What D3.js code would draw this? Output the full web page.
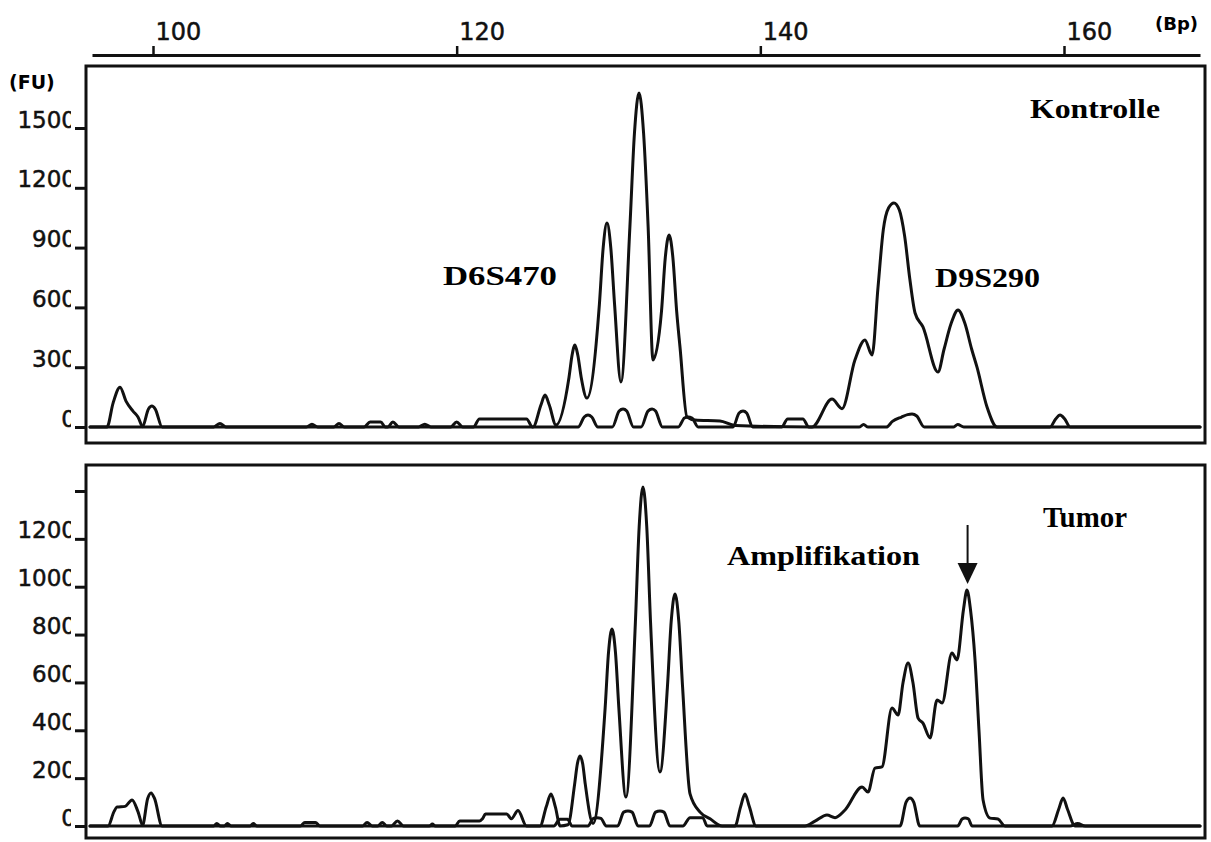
<!DOCTYPE html>
<html>
<head>
<meta charset="utf-8">
<script src="https://cdn.jsdelivr.net/npm/d3@7"></script>
<style>
  body { margin: 0; background: #fff; }
</style>
</head>
<body>
<script>
// fragment size ticks (bp) on the top axis
const bpTicks = [100, 120, 140, 160];
const fuTicksKontrolle = [0, 300, 600, 900, 1200, 1500];
const fuTicksTumor = [0, 200, 400, 600, 800, 1000, 1200, 1400];

// [bp, FU]
const kontrolleMain = [
  [95.85, 0], [96.97, 0], [97.37, 120], [97.83, 200], [98.22, 130], [98.68, 80],
  [99.01, 50], [99.34, 0], [125.03, 0], [125.55, 110], [125.82, 160], [126.1, 110], [126.54, 10],
  [127.4, 250], [127.6, 360], [127.79, 411], [127.98, 360], [128.2, 250], [128.58, 145],
  [129.4, 615], [129.65, 900], [129.90, 1023], [130.15, 900], [130.4, 615], [130.82, 226],
  [131.41, 1005], [131.71, 1475], [132.01, 1676], [132.31, 1475], [132.61, 1005], [132.93, 336],
  [133.49, 580], [133.74, 850], [133.99, 963], [134.24, 850], [134.49, 580], [134.71, 400],
  [135.17, 50], [135.70, 35], [137.34, 30], [138.33, 8], [143.40, 0],
  [144.72, 140], [145.38, 92], [146.23, 336], [146.89, 437], [147.36, 361],
  [147.75, 700], [148.1, 990], [148.45, 1100], [148.80, 1124], [149.15, 1090], [149.5, 960],
  [149.85, 740], [150.19, 572], [150.71, 502], [151.70, 276],
  [152.1, 390], [152.57, 520], [153.02, 587], [153.47, 520], [153.92, 390],
  [154.27, 300], [154.93, 100], [155.59, 0], [159.08, 0], [159.45, 40], [159.74, 60],
  [160.05, 40], [160.40, 0], [168.96, 0]
];
const kontrolleSmall = [
  [95.85, 0], [99.30, 0], [99.7, 90], [99.93, 105], [100.15, 90], [100.60, 0],
  [104.0, 0], [104.41, 18], [104.8, 0],
  [110.1, 0], [110.47, 14], [110.85, 0], [111.9, 0], [112.25, 18], [112.6, 0],
  [113.9, 0], [114.3, 25], [115.0, 25], [115.3, 0], [115.45, 0], [115.8, 25], [116.2, 0],
  [117.5, 0], [117.9, 14], [118.3, 0], [119.6, 0], [120.0, 25], [120.4, 0],
  [121.1, 0], [121.5, 40], [124.6, 40], [125.0, 0],
  [128.0, 0], [128.4, 50], [128.65, 60], [128.9, 50], [129.3, 0],
  [130.25, 0], [130.7, 80], [130.96, 90], [131.2, 80], [131.65, 0],
  [132.15, 0], [132.6, 80], [132.87, 90], [133.1, 80], [133.55, 0],
  [134.6, 0], [135.0, 45], [135.24, 50], [135.5, 45], [135.9, 0],
  [138.2, 0], [138.6, 70], [138.86, 80], [139.1, 70], [139.5, 0],
  [141.4, 0], [141.8, 40], [142.8, 40], [143.2, 0], [146.5, 0], [146.8, 12], [147.1, 0],
  [148.3, 0], [148.7, 28], [149.3, 50], [149.7, 62], [149.99, 65], [150.3, 55], [150.8, 0],
  [152.7, 0], [153.0, 12], [153.4, 0], [168.96, 0]
];
const tumorMain = [
  [95.85, 0], [97.04, 0], [97.43, 60], [97.63, 79], [98.16, 82], [98.62, 109],
  [99.01, 60], [99.34, 0], [125.49, 0], [125.9, 80], [126.21, 134], [126.5, 80], [126.81, 0],
  [127.33, 5], [127.77, 175], [127.95, 260], [128.12, 293], [128.3, 260], [128.47, 175], [128.98, 10],
  [129.78, 495], [130.0, 725], [130.23, 823], [130.46, 725], [130.68, 495], [131.15, 121],
  [131.77, 850], [132.02, 1250], [132.27, 1417], [132.52, 1250], [132.77, 850], [133.39, 226],
  [133.88, 580], [134.13, 855], [134.38, 970], [134.63, 855], [134.88, 580], [135.37, 134],
  [136.03, 58], [136.69, 30], [137.48, 0],
  [138.33, 0], [138.7, 80], [138.99, 134], [139.28, 80], [139.72, 0],
  [142.94, 0], [143.60, 20], [144.39, 46],
  [144.92, 35], [145.58, 67], [146.70, 163], [147.09, 142], [147.55, 242], [148.01, 247],
  [148.67, 493], [149.07, 464], [149.4, 600], [149.73, 681], [150.05, 600], [150.39, 451],
  [150.71, 430], [151.18, 368], [151.64, 527], [151.97, 514], [152.62, 723], [152.95, 694],
  [153.38, 905], [153.61, 986], [153.84, 905], [154.14, 694], [154.4, 400],
  [154.67, 109], [155.13, 33], [155.65, 29], [156.11, 0], [159.21, 0],
  [159.65, 70], [159.94, 117], [160.23, 70], [160.73, 0], [168.96, 0]
];
const tumorSmall = [
  [95.85, 0], [99.30, 0], [99.65, 115], [99.87, 138], [100.1, 115], [100.60, 0],
  [104.0, 0], [104.2, 10], [104.45, 0],
  [104.7, 0], [104.9, 10], [105.15, 0], [106.4, 0], [106.6, 10], [106.85, 0],
  [109.7, 0], [110.0, 15], [110.35, 15], [110.7, 15], [111.0, 0], [113.8, 0], [114.1, 15],
  [114.45, 0], [114.8, 0], [115.1, 15], [115.4, 0], [115.7, 0], [116.1, 21], [116.5, 0],
  [118.2, 0], [118.4, 8], [118.6, 0], [119.9, 0], [120.2, 21], [121.5, 21], [121.7, 30],
  [121.9, 50], [123.3, 50], [123.6, 30], [124.04, 65], [124.6, 0], [126.4, 0], [126.8, 28],
  [127.3, 28], [127.6, 0],
  [128.65, 0], [129.0, 32], [129.24, 35], [129.5, 32], [129.85, 0],
  [130.6, 0], [131.0, 58], [131.28, 63], [131.55, 58], [131.95, 0],
  [132.7, 0], [133.1, 58], [133.39, 63], [133.65, 58], [134.05, 0],
  [134.9, 0], [135.37, 35], [136.2, 35], [136.5, 0],
  [149.2, 0], [149.6, 100], [149.86, 117], [150.1, 100], [150.5, 0],
  [153.0, 0], [153.3, 30], [153.48, 33], [153.7, 30], [153.95, 0],
  [160.4, 0], [160.9, 10], [161.4, 0], [168.96, 0]
];

const width = 1211, height = 842;
const svg = d3.select("body").append("svg")
  .attr("width", width)
  .attr("height", height)
  .style("background", "#fff");

const x = d3.scaleLinear().domain([100, 160]).range([153, 1064]);

const panels = [
  { name: "Kontrolle", top: 66, bottom: 443, y: d3.scaleLinear().domain([0, 1500]).range([427, 128]),
    ticks: fuTicksKontrolle, traces: [kontrolleSmall, kontrolleMain], labelFmt: d => d },
  { name: "Tumor", top: 465, bottom: 838, y: d3.scaleLinear().domain([0, 1400]).range([826, 491]),
    ticks: fuTicksTumor, traces: [tumorSmall, tumorMain], labelFmt: d => d === 1400 ? "" : d }
];

// the last zero is cut off in the scan, so clip the tick labels
svg.append("defs").append("clipPath")
  .attr("id", "lblclip")
  .append("rect")
  .attr("x", -120).attr("y", -40).attr("width", 105).attr("height", 80);

// top bp axis
const axisScale = x.copy().domain([x.invert(92), x.invert(1200)]).range([92, 1200]);
const gx = svg.append("g")
  .attr("transform", "translate(0,55)")
  .call(d3.axisTop(axisScale).tickValues(bpTicks).tickSize(9).tickSizeOuter(0));
gx.select(".domain").attr("stroke-width", 3).attr("stroke", "#111");
gx.selectAll(".tick line").attr("stroke-width", 2.5).attr("stroke", "#111");
gx.selectAll(".tick text")
  .attr("font-family", "DejaVu Sans")
  .attr("font-size", 24)
  .attr("fill", "#111")
  .attr("stroke", "#111")
  .attr("stroke-width", 0.5)
  .attr("text-anchor", "start")
  .attr("x", 2)
  .attr("y", -15)
  .attr("dy", 0);

svg.append("text")
  .attr("x", 1155).attr("y", 30)
  .attr("font-family", "DejaVu Sans").attr("font-weight", "bold").attr("font-size", 18)
  .text("(Bp)");
svg.append("text")
  .attr("x", 9).attr("y", 89)
  .attr("font-family", "DejaVu Sans").attr("font-weight", "bold").attr("font-size", 19)
  .text("(FU)");

const line = d3.line().curve(d3.curveMonotoneX);

panels.forEach(p => {
  // frame
  svg.append("rect")
    .attr("x", 86).attr("y", p.top)
    .attr("width", 1205 - 86).attr("height", p.bottom - p.top)
    .attr("fill", "none").attr("stroke", "#111").attr("stroke-width", 3);

  const gy = svg.append("g")
    .attr("transform", "translate(86,0)")
    .call(d3.axisLeft(p.y).tickValues(p.ticks).tickSize(11).tickPadding(0).tickFormat(p.labelFmt));
  gy.select(".domain").remove();
  gy.selectAll(".tick line").attr("stroke-width", 3).attr("stroke", "#111");
  gy.selectAll(".tick text")
    .attr("font-family", "DejaVu Sans")
    .attr("font-size", 23)
    .attr("fill", "#111")
    .attr("stroke", "#111")
    .attr("stroke-width", 0.5)
    .attr("x", -10)
    .attr("dy", -1)
    .attr("clip-path", "url(#lblclip)");

  line.x(d => x(d[0])).y(d => p.y(d[1]));
  p.traces.forEach(t => {
    svg.append("path")
      .datum(t)
      .attr("d", line)
      .attr("fill", "none")
      .attr("stroke", "#111")
      .attr("stroke-width", 3)
      .attr("stroke-linejoin", "round")
      .attr("stroke-linecap", "round");
  });
});

// annotations
const serif = (txt, xx, yy, size, len) => svg.append("text")
  .attr("x", xx).attr("y", yy)
  .attr("font-family", "Liberation Serif").attr("font-weight", "bold")
  .attr("font-size", size)
  .attr("textLength", len).attr("lengthAdjust", "spacingAndGlyphs")
  .text(txt);

serif("Kontrolle", 1030, 118, 28, 130);
serif("D6S470", 443, 285, 27, 114);
serif("D9S290", 935, 287, 27, 105);
serif("Tumor", 1043, 527, 29, 84);
serif("Amplifikation", 727, 565, 28, 193);

// arrow to the amplified allele
const ax = x(153.65);
svg.append("line")
  .attr("x1", ax).attr("x2", ax).attr("y1", 525).attr("y2", 566)
  .attr("stroke", "#111").attr("stroke-width", 2);
svg.append("path")
  .attr("d", `M${ax - 10},563 L${ax + 10},563 L${ax},584 Z`)
  .attr("fill", "#111");
</script>
</body>
</html>
